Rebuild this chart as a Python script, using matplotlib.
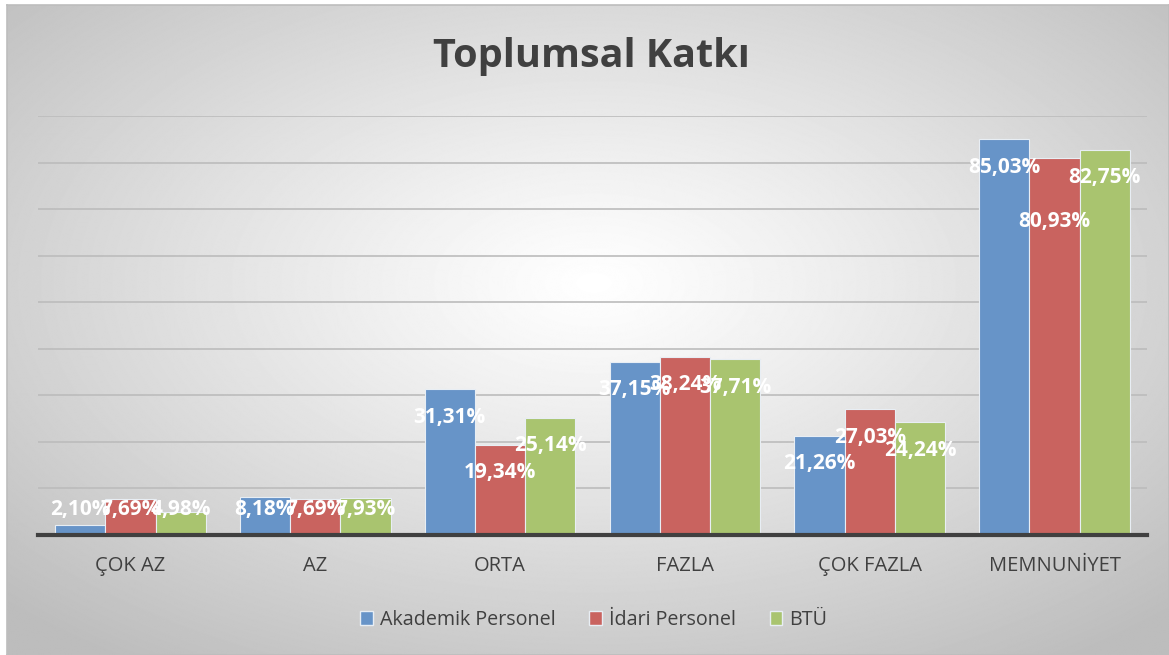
import numpy as np
import matplotlib
matplotlib.use('Agg')
import matplotlib.pyplot as plt
from matplotlib.patches import Patch

plt.rcParams['font.family'] = ['Open Sans', 'DejaVu Sans']

#Data
categories = ['ÇOK AZ', 'AZ', 'ORTA', 'FAZLA', 'ÇOK FAZLA', 'MEMNUNİYET']
series     = ['Akademik Personel', 'İdari Personel', 'BTÜ']
akademik   = [2.10, 8.18, 31.31, 37.15, 21.26, 85.03]
idari      = [7.69, 7.69, 19.34, 38.24, 27.03, 80.93]
btu        = [4.98, 7.93, 25.14, 37.71, 24.24, 82.75]
colors     = ['#6794c8', '#c9635f', '#a9c46f']

W, H = 1169, 655
fig = plt.figure(figsize=(W/100, H/100), dpi=100)

#Background gradient
bg = fig.add_axes([7/W, 0, 1 - 7/W, 1 - 5/H], zorder=-10)
yy, xx = np.mgrid[0:H, 0:W]
r = np.sqrt(((xx - 590)/(W/2))**2 + ((yy - 280)/(H/2))**2) / np.sqrt(2)
shade = 1 - 0.26*np.clip(r, 0, 1)**1.1
bg.imshow(shade, cmap='gray', vmin=0, vmax=1, aspect='auto', extent=[0, 1, 0, 1])
bg.set_xticks([]); bg.set_yticks([])
for s in bg.spines.values():
    s.set_color('#bdbdbd'); s.set_linewidth(1.2)

ax = fig.add_axes([38/W, 1 - 535/H, (1147 - 38)/W, (535 - 116)/H])
ax.patch.set_alpha(0)

x = np.arange(len(categories))
width = 0.272
data = [akademik, idari, btu]
for i, vals in enumerate(data):
    pos = x + (i - 1)*width
    ax.bar(pos, vals, width, color=colors[i], edgecolor='#e8eef4', linewidth=0.8, zorder=3)
    for j, v in enumerate(vals):
        ly = max(v - 6, 5.5)
        if i == 1 and j == 5:
            ly = v - 13.6
        ax.text(pos[j], ly, f'{v:.2f}%'.replace('.', ','), ha='center', va='center',
                color='white', fontsize=15, fontweight='bold', zorder=5)

ax.set_ylim(0, 90)
ax.set_xlim(-0.5, len(categories) - 0.5)
ax.set_yticks(np.arange(0, 91, 10))
ax.yaxis.grid(True, color='#bcbcbc', linewidth=1.2, zorder=0)
ax.tick_params(axis='y', length=0, labelleft=False)
ax.set_xticks(x)
ax.set_xticklabels(categories, fontsize=14.5, color='#404040')
ax.tick_params(axis='x', length=0, pad=15)
for s in ['top', 'right', 'left']:
    ax.spines[s].set_visible(False)
ax.spines['bottom'].set_color('#404040')
ax.spines['bottom'].set_linewidth(3)
ax.spines['bottom'].set_zorder(6)

fig.text(0.506, 1 - 57/H, 'Toplumsal Katkı', ha='center', va='center',
         fontsize=28.5, fontweight='bold', color='#404040')

handles = [Patch(facecolor=c, edgecolor='#e8eef4') for c in colors]
fig.legend(handles, series, loc='center', bbox_to_anchor=(0.508, 1 - 620/H), ncol=3,
           frameon=False, fontsize=14.2, handlelength=0.65, handleheight=0.65,
           handletextpad=0.35, columnspacing=1.7, labelcolor='#404040')

fig.savefig('out.png', dpi=100)
